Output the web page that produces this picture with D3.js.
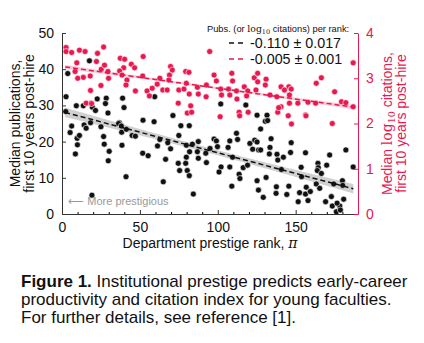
<!DOCTYPE html>
<html>
<head>
<meta charset="utf-8">
<script src="https://cdn.jsdelivr.net/npm/d3@7"></script>
<style>
  body { margin: 0; background: #fff; }
  svg text { font-family: "Liberation Sans", Arial, sans-serif; }
</style>
</head>
<body>
<div id="chart"></div>
<script>
// rank / median pubs (black)
var pubsPts = [
  [17.6,42.3],[3.7,38.8],[2.6,32.4],[9.2,29.9],[13.7,29.9],[18.3,30.5],[22.6,31.8],[19.5,29.5],[21.5,28.6],[28.4,32],
  [27.9,30.5],[29.5,27.9],[38.9,32],[39.8,29.4],[2.4,28.3],[36.8,25.2],[52,25.9],[59.1,25.5],[59.5,32.4],
  [6.2,24.3],[5.2,22.5],[9.7,20.9],[11.2,21.7],[9.9,19.1],[8.6,16.6],[14.2,24.6],[15.5,23.7],[18.3,25.2],[25,24.1],
  [26.7,21.4],[27.1,19.3],[30.3,17.3],[29.7,14.7],[19.2,5.2],[36.3,25],[38.1,24.3],[38.3,22.6],[41.3,23.4],[38.5,19],
  [41.1,10.3],[45,21.7],[47.1,21.5],[51.8,16.8],[55.3,16.1],[61.3,18.8],
  [76.3,24.4],[81.7,24.4],[75,21.7],[62.8,20.6],[67.9,19.7],[69.7,18],[66.5,15.1],[65,8.9],[79.8,19],[81.9,17.2],
  [83.7,19.3],[87.5,20],[86.9,17.2],[79.8,15.7],[74.6,14],[79.4,14],[75.5,12],[80.4,12],[81.7,10.6],[87.5,15.4],
  [92.7,14.2],[84.3,5.5],[92.3,16.8],[95,18.1],[97.6,20.7],[99.1,20.2],[99.8,18.6],[102.1,13],[100.8,11.6],[107.7,20.2],
  [106.6,18.4],[109.5,15.7],[107.7,13],[109,7.7],[112,22.3],[112.7,20.6],[113.7,11],[114.2,9.8],[116.3,12.8],[119.1,13.5],
  [120.6,19.5],[122.4,17.9],[123.7,20.4],[125.2,19.9],[126.2,17.7],[125.2,9.2],[126.1,6.6],
  [130.5,25.6],[127.5,23.5],[134.2,20.8],[133.5,18.4],[133.1,16.6],[127.5,17.7],[138,16.5],[138.5,14.9],[142.1,15.7],
  [147.1,19.7],[146.7,17],[140.8,12.3],[131,10.1],[129.2,4.6],[137.6,7.5],[137.4,5.7],[144.3,5.4],[145.6,7.7],[151.6,3.4],
  [152.5,5.9],[153.8,10.3],[153.5,12.9],[156.3,16.9],[156.8,7.4],[157.9,3.7],[156.3,5.5],[159.4,6.2],[164.3,14],[164.5,12.8],
  [163.9,12],[166.5,11.2],[163.2,8.3],[165.4,7.1],[169.9,13.5],[171.8,16.3],[169.2,3.4],[172.9,4.8],[173.5,2.2],[176.1,0.6],
  [178.3,2.2],[178.7,1.1],[176.6,3],[180.8,4.1],[182.2,17.7],[180,9.2],[180.2,7.9],[186.9,13],[174.4,8.3],
  [131.6,27.3],[132,25.8],[101.9,30.4],[118,30.1],[125.2,27.3],[71.2,27.2]
];

// rank / median log10 citations (crimson)
var citPts = [
  [2.6,3.68],[2.6,3.59],[6.2,3.57],[11.2,3.62],[14.8,3.59],[22.8,3.55],[26.7,3.69],[9.5,3.34],[22.1,3.37],[8.4,3.15],
  [13.7,3.02],[10.1,3.0],[18.1,3.05],[25.2,3.2],[27.3,3.29],[29.5,3.15],[29.9,3.0],[25,2.84],[18.3,2.73],[15.5,2.45],
  [19,2.44],[37.4,3.44],[40.2,3.42],[39.6,3.23],[37,3.16],[38.5,3.07],[41.7,2.96],[41.1,2.85],[44.5,3.31],[46.6,3.23],
  [52.1,3.48],[51.8,3.05],[47.1,2.72],[54.6,2.72],[56.1,2.61],[57.9,2.78],[61.1,2.87],[62.8,3.0],
  [94.8,3.59],[69.7,3.26],[70.8,3.18],[69,3.07],[68.6,2.96],[64.7,2.74],[67.5,2.74],[75,2.74],[78.3,2.76],[79.4,3.15],
  [81.5,3.13],[79.8,2.89],[81.7,2.65],[86.9,2.8],[87.5,2.65],[92.7,2.85],[92.5,2.59],[74.6,2.45],[82.6,2.39],[80.4,2.23],
  [83.2,2.25],[97.6,3.07],[99.1,2.94],[101.9,2.76],[102.4,2.63],[106.9,2.76],[109,3.11],[109.5,2.94],[107.7,2.63],[112,2.72],
  [112.3,2.54],[117,2.81],[119.2,2.72],[118.5,2.61],[113.7,2.25],[119.5,2.25],[123.4,3.01],[125.6,3.11],[125.6,2.92],[124.5,2.74],
  [186.9,3.34],[131,2.98],[130.5,2.85],[140.6,2.81],[145.6,2.81],[147.1,2.76],[142.8,2.74],[146,2.63],[133.5,2.63],[137.9,2.59],
  [163.2,2.89],[166.5,3.01],[175,2.70],[179.4,2.48],[182.2,2.46],[186.9,2.37],[140.6,2.37],[146,2.45],[151.4,2.45],[157.9,2.47],
  [162.8,2.45],[138.5,2.25],[139.1,2.35],[156.3,2.19],[173.5,2.0],[101.5,2.15],[114,2.17],[145.2,2.17],[147.3,1.99],[156.6,2.17]
];

// fitted lines: [intercept, slope], band half width [middle, ends]
var fitRange = [2, 187];
var pubsFit = [28.3, -0.114];
var pubsBand = [0.7, 1.3];
var citFit = [3.26, -0.0048];
var citBand = [0.022, 0.045];

var legendText = ["-0.110 \u00b1 0.017", "-0.005 \u00b1 0.001"];
var xTicks = [0, 50, 100, 150];
var yTicks = [0, 10, 20, 30, 40, 50];
var y2Ticks = [0, 1, 2, 3, 4];
var captionLines = [
  ["Figure 1.", " Institutional prestige predicts early-career"],
  ["", "productivity and citation index for young faculties."],
  ["", "For further details, see reference [1]."]
];

var red = "#e8194f";
var W = 424, H = 343;
var m = {left: 62, right: 358, top: 33, bottom: 214};

var svg = d3.select("#chart").append("svg")
  .attr("width", W).attr("height", H);

var x = d3.scaleLinear().domain([0, 190]).range([m.left, m.right]);
var y = d3.scaleLinear().domain([0, 50]).range([m.bottom, m.top]);
var y2 = d3.scaleLinear().domain([0, 4]).range([m.bottom, m.top]);

function bandArea(fit, band, sc) {
  var mid = (fitRange[0] + fitRange[1]) / 2, half = (fitRange[1] - fitRange[0]) / 2;
  var k = (band[1] * band[1]) / (band[0] * band[0]) - 1;
  var xs = d3.range(fitRange[0], fitRange[1] + 0.1, 1);
  function hw(d) { return band[0] * Math.sqrt(1 + k * Math.pow((d - mid) / half, 2)); }
  return d3.area()
    .x(function(d) { return x(d); })
    .y0(function(d) { return sc(fit[0] + fit[1] * d - hw(d)); })
    .y1(function(d) { return sc(fit[0] + fit[1] * d + hw(d)); })(xs);
}

// bands
svg.append("path").attr("d", bandArea(citFit, citBand, y2))
  .attr("fill", "#f9c4d2").attr("opacity", 0.9);
svg.append("path").attr("d", bandArea(pubsFit, pubsBand, y))
  .attr("fill", "#c8c8c8").attr("opacity", 0.85);

// points
svg.append("g").selectAll("circle").data(pubsPts).enter().append("circle")
  .attr("cx", function(d) { return x(d[0]); })
  .attr("cy", function(d) { return y(d[1]); })
  .attr("r", 3)
  .attr("fill", "#111")
  .attr("stroke", "#fff").attr("stroke-width", 0.6);

svg.append("g").selectAll("circle").data(citPts).enter().append("circle")
  .attr("cx", function(d) { return x(d[0]); })
  .attr("cy", function(d) { return y2(d[1]); })
  .attr("r", 3)
  .attr("fill", red)
  .attr("stroke", "#fff").attr("stroke-width", 0.6);

// fit lines
function fitLine(fit, sc) {
  return d3.line()
    .x(function(d) { return x(d); })
    .y(function(d) { return sc(fit[0] + fit[1] * d); })(fitRange);
}
svg.append("path").attr("d", fitLine(citFit, y2))
  .attr("stroke", red).attr("stroke-width", 1.5).attr("fill", "none")
  .attr("stroke-dasharray", "5,3");
svg.append("path").attr("d", fitLine(pubsFit, y))
  .attr("stroke", "#111").attr("stroke-width", 1.5).attr("fill", "none")
  .attr("stroke-dasharray", "5,3");

// axes
var xAxis = svg.append("g").attr("transform", "translate(0," + m.bottom + ")")
  .call(d3.axisBottom(x).tickValues(xTicks).tickSizeInner(-4).tickSizeOuter(0).tickPadding(8));
svg.append("g").attr("transform", "translate(0," + m.bottom + ")")
  .call(d3.axisBottom(x).tickValues(d3.range(10, 190, 10).filter(function(v) { return v % 50; }))
    .tickSizeInner(-2).tickSizeOuter(0).tickFormat(""))
  .select(".domain").remove();
var yAxis = svg.append("g").attr("transform", "translate(" + m.left + ",0)")
  .call(d3.axisLeft(y).tickValues(yTicks).tickSizeInner(-4).tickSizeOuter(0).tickPadding(8));
var y2Axis = svg.append("g").attr("transform", "translate(" + m.right + ",0)")
  .call(d3.axisRight(y2).tickValues(y2Ticks).tickFormat(d3.format("d"))
    .tickSizeInner(-4).tickSizeOuter(0).tickPadding(8));

[xAxis, yAxis].forEach(function(g) {
  g.selectAll("text").attr("font-size", 14).attr("fill", "#111");
  g.selectAll("line, path").attr("stroke", "#333");
});
y2Axis.selectAll("text").attr("font-size", 14).attr("fill", red);
y2Axis.selectAll("line, path").attr("stroke", red);

// axis titles
svg.append("text").attr("x", (m.left + m.right) / 2).attr("y", 248)
  .attr("text-anchor", "middle").attr("font-size", 14).attr("fill", "#111")
  .text("Department prestige rank, ")
  .append("tspan").attr("font-family", "DejaVu Serif, serif").attr("font-style", "italic").text("\u03c0");

var yl = svg.append("text").attr("transform", "translate(20," + ((m.top + m.bottom) / 2) + ") rotate(-90)")
  .attr("text-anchor", "middle").attr("font-size", 14).attr("fill", "#111");
yl.append("tspan").attr("x", 0).attr("dy", 0).text("Median publications,");
yl.append("tspan").attr("x", 0).attr("dy", 14).text("first 10 years post-hire");

var yr = svg.append("text").attr("transform", "translate(392," + ((m.top + m.bottom) / 2) + ") rotate(-90)")
  .attr("text-anchor", "middle").attr("font-size", 14).attr("fill", red);
var yr1 = yr.append("tspan").attr("x", 0).attr("dy", 0);
yr1.append("tspan").text("Median ");
yr1.append("tspan").attr("font-family", "DejaVu Serif, serif").text("log");
yr1.append("tspan").attr("font-family", "DejaVu Serif, serif").attr("font-size", 9.5).attr("dy", 3).text("10");
yr1.append("tspan").attr("dy", -3).text(" citations,");
yr.append("tspan").attr("x", 0).attr("dy", 14).text("first 10 years post-hire");

// "more prestigious" note
svg.append("text").attr("x", x(4)).attr("y", 205)
  .attr("font-size", 11).attr("fill", "#999")
  .text("\u27f5 More prestigious");

// legend
var lt = svg.append("text").attr("x", 207).attr("y", 32).attr("font-size", 9.3).attr("fill", "#111");
lt.append("tspan").text("Pubs. (or ");
lt.append("tspan").attr("font-family", "DejaVu Serif, serif").text("log");
lt.append("tspan").attr("font-family", "DejaVu Serif, serif").attr("font-size", 6.5).attr("dy", 2).text("10");
lt.append("tspan").attr("dy", -2).text(" citations) per rank:");

var legColors = ["#111", red];
legendText.forEach(function(t, i) {
  var ly = 43 + i * 16;
  svg.append("line").attr("x1", 229).attr("x2", 245).attr("y1", ly).attr("y2", ly)
    .attr("stroke", legColors[i]).attr("stroke-width", 1.6).attr("stroke-dasharray", "5,4");
  svg.append("text").attr("x", 250).attr("y", ly + 5).attr("font-size", 14.3).attr("fill", "#111").text(t);
});

// caption
captionLines.forEach(function(l, i) {
  var t = svg.append("text").attr("x", 21).attr("y", 287 + i * 18).attr("font-size", 17).attr("fill", "#111");
  if (l[0]) t.append("tspan").attr("font-weight", "bold").text(l[0]);
  t.append("tspan").text(l[1]);
});
</script>
</body>
</html>
